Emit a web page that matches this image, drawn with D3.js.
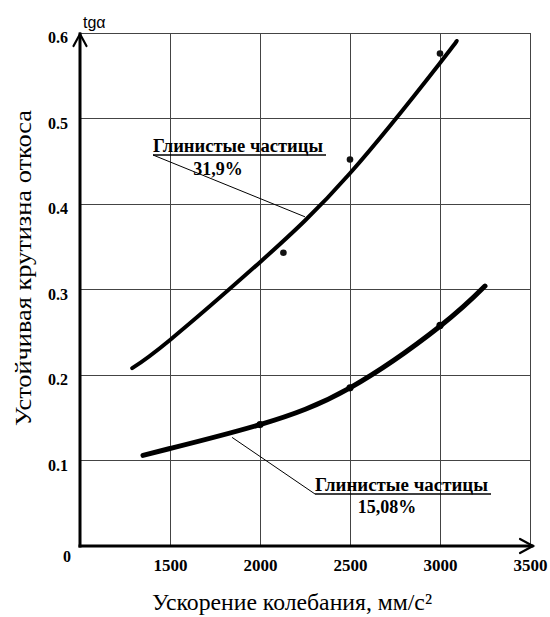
<!DOCTYPE html>
<html>
<head>
<meta charset="utf-8">
<script src="https://cdn.jsdelivr.net/npm/d3@7"></script>
<style>
  html, body { margin: 0; padding: 0; background: #fff; }
  svg { display: block; }
  .serif { font-family: "Liberation Serif", "DejaVu Serif", serif; }
  .sans { font-family: "Liberation Sans", "DejaVu Sans", sans-serif; }
</style>
</head>
<body>
<svg id="chart" width="550" height="617"></svg>
<script>
// Acceleration of vibration, mm/s²
const xTicks = [1500, 2000, 2500, 3000, 3500];
// Stable slope steepness, tg α
const yTicks = [0.1, 0.2, 0.3, 0.4, 0.5, 0.6];

// Clay particles 31.9 % — fitted curve
const curveHighX = [1290, 1500, 2000, 2500, 3000, 3090];
const curveHighY = [0.208, 0.241, 0.332, 0.436, 0.565, 0.590];
// Clay particles 31.9 % — measured points
const pointsHighX = [2130, 2500, 3000];
const pointsHighY = [0.343, 0.452, 0.576];

// Clay particles 15.08 % — fitted curve
const curveLowX = [1350, 1500, 2000, 2500, 3000, 3250];
const curveLowY = [0.106, 0.114, 0.142, 0.185, 0.257, 0.304];
// Clay particles 15.08 % — measured points
const pointsLowX = [2000, 2500, 3000];
const pointsLowY = [0.142, 0.185, 0.258];

// Curve labels and the curve point each leader line points to
const labelTitles = ["Глинистые частицы", "Глинистые частицы"];
const labelValues = ["31,9%", "15,08%"];
const leaderX = [2250, 1845];
const leaderY = [0.385, 0.127];

const svg = d3.select("#chart");
const x = d3.scaleLinear().domain([1000, 3500]).range([80, 530]);
const y = d3.scaleLinear().domain([0, 0.6]).range([546, 33]);

// grid
const grid = svg.append("g").attr("stroke", "#444").attr("stroke-width", 1).attr("shape-rendering", "crispEdges");
grid.selectAll("line.v").data(xTicks).join("line")
  .attr("x1", d => x(d)).attr("x2", d => x(d))
  .attr("y1", y(0)).attr("y2", y(0.6));
grid.selectAll("line.h").data(yTicks).join("line")
  .attr("x1", x(1000)).attr("x2", x(3500))
  .attr("y1", d => y(d)).attr("y2", d => y(d));

// axes (labels only, lines drawn with arrows below)
const yAxis = svg.append("g")
  .attr("transform", `translate(${x(1000)},0)`)
  .call(d3.axisLeft(y).tickValues(yTicks).tickSize(0).tickPadding(12).tickFormat(d3.format(".1f")));
yAxis.select(".domain").remove();
yAxis.attr("font-family", null).attr("font-size", null);
yAxis.selectAll("text")
  .attr("class", "serif")
  .attr("dy", "0.62em")
  .attr("font-weight", "bold").attr("font-size", 16).attr("fill", "#000");

const xAxis = svg.append("g")
  .attr("transform", `translate(0,${y(0)})`)
  .call(d3.axisBottom(x).tickValues(xTicks).tickSize(0).tickPadding(13).tickFormat(d3.format("d")));
xAxis.select(".domain").remove();
xAxis.attr("font-family", null).attr("font-size", null);
xAxis.selectAll("text")
  .attr("class", "serif")
  .attr("font-weight", "bold").attr("font-size", 17).attr("fill", "#000");

svg.append("text")
  .attr("class", "serif")
  .attr("x", 67).attr("y", 562)
  .attr("text-anchor", "middle")
  .attr("font-weight", "bold").attr("font-size", 16)
  .text("0");

// axis lines with open arrowheads
const axisG = svg.append("g").attr("stroke", "#000").attr("fill", "none")
  .attr("stroke-width", 3).attr("stroke-linecap", "square");
axisG.append("path").attr("d", `M${x(1000)},${y(0)} V${y(0.6) + 1}`);
axisG.append("path").attr("d", `M${x(1000)},${y(0)} H${x(3500) + 2}`);
axisG.append("path").attr("stroke-width", 2.2).attr("stroke-linecap", "round").attr("stroke-linejoin", "miter")
  .attr("d", `M${x(1000) - 6.5},${y(0.6) + 13} L${x(1000)},${y(0.6) + 1} L${x(1000) + 6.5},${y(0.6) + 13}`);
axisG.append("path").attr("stroke-width", 2.2).attr("stroke-linecap", "round").attr("stroke-linejoin", "miter")
  .attr("d", `M${x(3500) - 10},${y(0) - 7} L${x(3500) + 3},${y(0)} L${x(3500) - 10},${y(0) + 7}`);

// curves
const line = d3.line().x(d => x(d[0])).y(d => y(d[1])).curve(d3.curveNatural);
svg.append("path")
  .datum(d3.zip(curveHighX, curveHighY))
  .attr("d", line).attr("fill", "none").attr("stroke", "#000")
  .attr("stroke-width", 4).attr("stroke-linecap", "round");
svg.append("path")
  .datum(d3.zip(curveLowX, curveLowY))
  .attr("d", line).attr("fill", "none").attr("stroke", "#000")
  .attr("stroke-width", 5).attr("stroke-linecap", "round");

// measured points
svg.append("g").selectAll("circle").data(d3.zip(pointsHighX, pointsHighY)).join("circle")
  .attr("cx", d => x(d[0])).attr("cy", d => y(d[1])).attr("r", 3.3).attr("fill", "#111");
svg.append("g").selectAll("circle").data(d3.zip(pointsLowX, pointsLowY)).join("circle")
  .attr("cx", d => x(d[0])).attr("cy", d => y(d[1])).attr("r", 3.6).attr("fill", "#000");

// curve labels with leader lines
const labelLayout = [
  { left: 153, base: 152, width: 170, center: 218, base2: 175 },
  { left: 315, base: 491, width: 173, center: 387, base2: 513 }
];
labelLayout.forEach((L, i) => {
  const g = svg.append("g");
  g.append("line")
    .attr("x1", L.left).attr("y1", L.base + 3)
    .attr("x2", x(leaderX[i])).attr("y2", y(leaderY[i]))
    .attr("stroke", "#000").attr("stroke-width", 1);
  g.append("line")
    .attr("x1", L.left).attr("x2", L.left + L.width + 3)
    .attr("y1", L.base + 3).attr("y2", L.base + 3)
    .attr("stroke", "#000").attr("stroke-width", 1.5);
  g.append("text")
    .attr("class", "serif")
    .attr("x", L.left).attr("y", L.base)
    .attr("font-weight", "bold").attr("font-size", 18)
    .attr("textLength", L.width).attr("lengthAdjust", "spacingAndGlyphs")
    .text(labelTitles[i]);
  g.append("text")
    .attr("class", "serif")
    .attr("x", L.center).attr("y", L.base2)
    .attr("text-anchor", "middle")
    .attr("font-weight", "bold").attr("font-size", 18)
    .text(labelValues[i]);
});

// axis titles
svg.append("text")
  .attr("class", "serif")
  .attr("x", 292).attr("y", 610)
  .attr("text-anchor", "middle")
  .attr("font-size", 23)
  .attr("textLength", 280).attr("lengthAdjust", "spacingAndGlyphs")
  .text("Ускорение колебания, мм/с²");

svg.append("text")
  .attr("class", "serif")
  .attr("transform", "translate(31,268) rotate(-90)")
  .attr("text-anchor", "middle")
  .attr("font-size", 23)
  .attr("textLength", 316).attr("lengthAdjust", "spacingAndGlyphs")
  .text("Устойчивая крутизна откоса");

svg.append("text")
  .attr("class", "sans")
  .attr("x", 83).attr("y", 28)
  .attr("font-size", 16)
  .text("tgα");
</script>
</body>
</html>
